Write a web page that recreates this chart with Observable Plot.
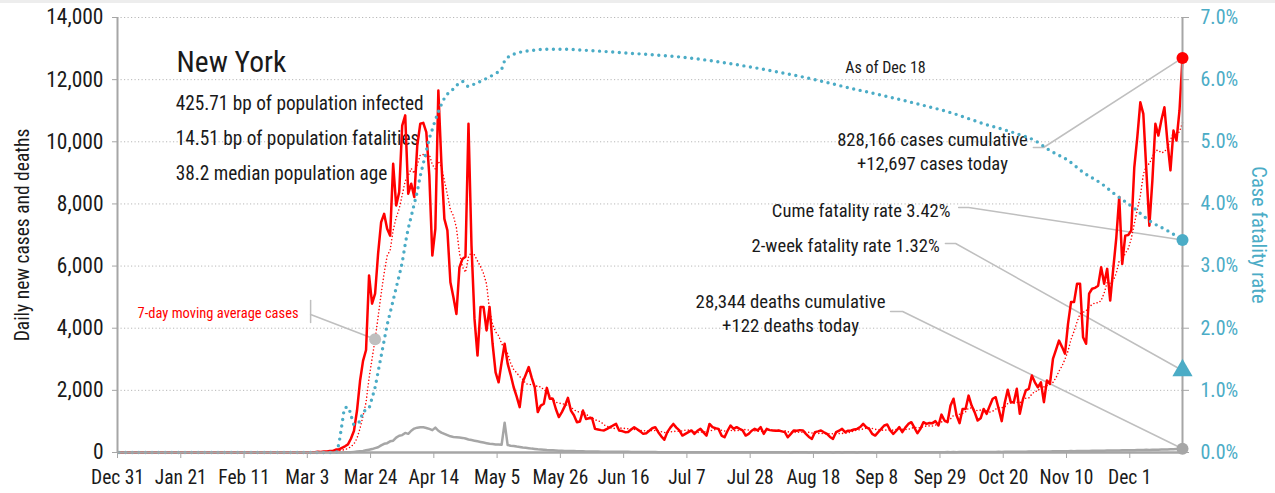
<!DOCTYPE html>
<html><head><meta charset="utf-8">
<script src="https://cdn.jsdelivr.net/npm/d3@7"></script>
<script src="https://cdn.jsdelivr.net/npm/@observablehq/plot@0.6"></script>
<style>
html,body{margin:0;padding:0;background:#fff;}
#chart{position:absolute;left:0;top:0;}
#strip{position:absolute;left:0;top:0;width:1275px;height:3px;background:#ededed;}
</style></head>
<body><div id="chart"></div><div id="strip"></div>
<script>
// ---------- data (daily, starting Dec 31 2019) ----------
const startDate = "2019-12-31";
const cases = [
0,0,0,0,0,0,0,0,0,0, 0,0,0,0,0,0,0,0,0,0, 0,0,0,0,0,0,0,0,0,0,
0,0,0,0,0,0,0,0,0,0, 0,0,0,0,0,0,0,0,0,0, 0,0,0,0,0,0,0,0,0,0, 0,
1,0,1,9,11,22,13,30,36,50,
52,95,100,150,200,260,450,700,1350,2300,
2950,3300,5700,4790,5110,6400,7410,7680,7200,6980,
9290,7950,8380,10520,10850,8330,8650,8220,9880,10580,
10610,10310,8920,6340,7200,11650,9340,7520,7150,5480,
5000,4460,5960,6230,6300,10580,6660,4300,3120,4680,
4680,3930,4680,3500,2580,2260,2900,3500,2860,2500,
2100,1800,1460,2260,2500,2750,2400,2100,1300,1510,
1570,2080,1730,1730,1400,1140,1300,1500,1760,1350,
1200,975,1000,1350,1080,1100,1110,760,740,720,
710,760,815,870,920,710,690,655,660,740,
815,750,680,600,620,700,780,815,655,520,
410,655,800,920,800,710,545,600,655,710,
600,700,760,650,545,920,815,780,760,545,
490,700,870,760,815,760,710,545,600,700,
760,710,815,600,760,720,710,700,710,680,
655,490,600,710,700,720,710,600,500,440,
655,680,710,650,600,500,440,655,700,760,
655,700,710,740,760,820,920,815,760,600,
545,655,760,870,900,710,600,700,815,655,
800,920,975,800,620,760,975,920,950,945,
1010,870,1220,1030,975,1510,1730,1200,945,1400,
1400,1830,1510,1300,1030,1100,1400,1245,1500,1730,
1780,1400,1010,1600,2020,1620,1620,2050,1245,1700,
2000,2050,2480,2260,2100,2260,1620,2320,2210,3010,
3300,3600,3400,3180,4140,4840,4840,5430,5430,3710,
3500,5110,5270,5300,5370,5960,5430,5910,4890,5900,
6880,8220,6070,6980,7000,7150,9180,10150,11270,10900,
9080,7300,8750,10580,10200,10700,11110,10000,9080,10360,
10040,11000,12697
];
const deaths = [
0,0,0,0,0,0,0,0,0,0, 0,0,0,0,0,0,0,0,0,0, 0,0,0,0,0,0,0,0,0,0,
0,0,0,0,0,0,0,0,0,0, 0,0,0,0,0,0,0,0,0,0, 0,0,0,0,0,0,0,0,0,0,
0,0,0,0,0,0,0,0,0,0, 0,0,0,
2,3,5,8,12,20,30,40,
50,70,90,110,140,170,230,280,300,360,
380,480,540,560,630,600,700,770,800,815,
810,790,760,720,800,700,640,600,560,520,
500,490,480,470,450,420,400,380,360,340,
320,300,280,270,260,255,250,960,240,220,
210,190,180,160,150,140,125,115,105,100,
90,80,75,70,65,60,55,52,50,48,
45,42,40,38,36,35,33,32,30,28,
27,26,25,25,24,23,22,22,21,20,
20,18,17,16,15,15,14,13,12,12,11,10,10,9,9,10,9,8,8,9,8,8,7,8,7,7,7,8,7,6,
6,7,6,7,6,5,6,6,5,6,5,6,5,6,5,5,6,5,5,6,5,5,4,5,5,6,5,5,4,5,
5,4,5,5,6,5,4,5,5,4,5,6,5,5,4,5,5,6,5,5,4,5,5,6,5,5,6,5,6,7,
7,6,7,8,7,8,9,8,10,9,11,10,12,11,13,12,14,12,13,15,14,16,15,14,16,18,17,19,18,20,
18,21,20,22,21,24,23,26,25,28,27,30,29,32,31,34,33,36,35,38,37,40,39,42,41,45,44,48,47,50,
52,50,55,54,58,57,60,62,61,65,64,68,70,69,72,75,74,78,80,82,85,84,88,90,92,95,97,100,104,108,112,118,122
];
// case fatality rate (%) read at these dates
const cfrDates = ["2019-12-31","2020-03-12","2020-03-13","2020-03-14","2020-03-15","2020-03-16","2020-03-17","2020-03-18","2020-03-19","2020-03-20","2020-03-21","2020-03-22","2020-03-23","2020-03-24","2020-03-25","2020-03-26","2020-03-27","2020-03-28","2020-03-29","2020-03-30","2020-03-31","2020-04-01","2020-04-02","2020-04-03","2020-04-04","2020-04-05","2020-04-06","2020-04-07","2020-04-08","2020-04-09","2020-04-10","2020-04-11","2020-04-12","2020-04-13","2020-04-14","2020-04-15","2020-04-17","2020-04-20","2020-04-23","2020-04-25","2020-04-27","2020-05-01","2020-05-04","2020-05-06","2020-05-07","2020-05-10","2020-05-16","2020-05-21","2020-05-27","2020-05-31","2020-06-07","2020-06-16","2020-07-07","2020-07-28","2020-08-18","2020-08-30","2020-09-10","2020-09-21","2020-10-02","2020-10-13","2020-10-24","2020-10-30","2020-11-04","2020-11-10","2020-11-15","2020-11-21","2020-11-26","2020-12-02","2020-12-07","2020-12-13","2020-12-18"];
const cfrValues = [0,0,0.15,0.45,0.72,0.73,0.6,0.45,0.48,0.5,0.66,0.68,0.72,0.88,1.05,1.3,1.55,1.8,2.05,2.25,2.45,2.65,2.85,3.06,3.35,3.6,3.8,4.0,4.2,4.45,4.65,4.85,5.05,5.2,5.35,5.48,5.7,5.85,5.97,5.89,5.93,6.02,6.1,6.17,6.3,6.41,6.47,6.49,6.49,6.48,6.46,6.43,6.35,6.2,6.0,5.86,5.74,5.61,5.47,5.29,5.13,5.02,4.86,4.70,4.51,4.33,4.14,3.93,3.73,3.57,3.42];
const twoWeekRate = 1.32;
const yTicks = [0,2000,4000,6000,8000,10000,12000,14000];
const rightMax = 7; // right axis runs 0% .. 7.0%
const xTickDates = ["2019-12-31","2020-01-21","2020-02-11","2020-03-03","2020-03-24","2020-04-14","2020-05-05","2020-05-26","2020-06-16","2020-07-07","2020-07-28","2020-08-18","2020-09-08","2020-09-29","2020-10-20","2020-11-10","2020-12-01"];
const infoLines = ["425.71 bp of population infected","14.51 bp of population fatalities","38.2 median population age"];

// ---------- helpers ----------
const DAY = 864e5;
const t0 = Date.parse(startDate + "T00:00:00Z");
const dateAt = d => new Date(t0 + d * DAY);
const noon = s => new Date(Date.parse(s + "T12:00:00Z"));
const cfrScale = yTicks[yTicks.length - 1] / rightMax;
const table = cases.map((c, i) => ({date: dateAt(i + 0.5), cases: c, deaths: deaths[i]}));
const cfrTable = cfrDates.map((s, i) => ({date: noon(s), cfr: cfrValues[i]}));
const last = table[table.length - 1];
const xDomain = [dateAt(0), dateAt(cases.length - 0.5)];
const maDay = 85;
const maValue = d3.mean(cases.slice(maDay - 6, maDay + 1));

const FONT = "'Liberation Sans Narrow','Arial Narrow','Roboto Condensed','DejaVu Sans Condensed',sans-serif";
const BLUE = "#4bacc6", GRAY = "#a6a6a6", LEAD = "#bfbfbf";

// annotations in data space (day offset from start, value on left scale)
const notes = [
  {day: 19.6, value: 12640, text: "New York", size: 29.5, anchor: "start"},
  {day: 19.3, value: 11270, text: infoLines[0], size: 19.3, anchor: "start"},
  {day: 19.3, value: 10160, text: infoLines[1], size: 19.3, anchor: "start"},
  {day: 19.3, value: 9040, text: infoLines[2], size: 19.3, anchor: "start"},
  {day: 254.9, value: 12414, text: "As of Dec 18", size: 16, anchor: "middle"},
  {day: 270.5, value: 9740, text: "828,166 cases cumulative\n+12,697 cases today", size: 18.6, anchor: "middle"},
  {day: 276.5, value: 7834, text: "Cume fatality rate 3.42%", size: 18.6, anchor: "end"},
  {day: 272.9, value: 6707, text: "2-week fatality rate 1.32%", size: 18.6, anchor: "end"},
  {day: 223.4, value: 4510, text: "28,344 deaths cumulative\n+122 deaths today", size: 18.8, anchor: "middle"},
  {day: 6.65, value: 4538, text: "7-day moving average cases", size: 14.5, anchor: "start", fill: "#ff0000"}
];
const leaders = [
  {id: "c", pts: [[304.0, 9816], [307.4, 9816], [null, last.cases]]},
  {id: "f", pts: [[279.2, 7885], [282.5, 7885], [null, cfrValues[cfrValues.length - 1] * cfrScale]]},
  {id: "w", pts: [[274.8, 6727], [278.2, 6727], [null, twoWeekRate * cfrScale]]},
  {id: "d", pts: [[256.6, 4538], [260.6, 4538], [null, last.deaths]]},
  {id: "m1", pts: [[64.1, 4892], [64.1, 4184]]},
  {id: "m2", pts: [[64.1, 4441], [maDay + 0.5, maValue]]}
];
const leaderRows = leaders.flatMap(l => l.pts.map(p => ({id: l.id, date: p[0] === null ? last.date : dateAt(p[0]), v: p[1]})));

const chart = Plot.plot({
  width: 1275, height: 493,
  marginLeft: 117, marginRight: 93, marginTop: 17, marginBottom: 41,
  style: {fontFamily: FONT, fontSize: "19px", color: "#1a1a1a", background: "#fff"},
  x: {type: "utc", domain: xDomain},
  y: {domain: [0, yTicks[yTicks.length - 1]]},
  marks: [
    Plot.ruleY(yTicks.filter(v => v > 0), {stroke: "#b8b8b8", strokeWidth: 1, strokeDasharray: "1.2 2.3"}),
    ...notes.map(n => Plot.text([n], {x: d => dateAt(d.day), y: "value", text: "text", textAnchor: n.anchor, fontSize: n.size, lineHeight: 1.3, fill: n.fill || "#1a1a1a"})),
    Plot.line(leaderRows, {x: "date", y: "v", z: "id", stroke: LEAD, strokeWidth: 1.5}),
    Plot.lineY(table, {x: "date", y: "deaths", stroke: GRAY, strokeWidth: 2.5}),
    Plot.lineY(table, Plot.windowY({k: 7, anchor: "end"}, {x: "date", y: "cases", stroke: "#ff0000", strokeWidth: 1.6, strokeDasharray: "0 3.4", strokeLinecap: "round"})),
    Plot.lineY(table, {x: "date", y: "cases", stroke: "#ff0000", strokeWidth: 2.5}),
    Plot.line(cfrTable, {x: "date", y: d => d.cfr * cfrScale, stroke: BLUE, strokeWidth: 3.4, strokeDasharray: "0 6.6", strokeLinecap: "round", curve: "monotone-x"}),
    Plot.ruleX(xDomain, {stroke: GRAY, strokeWidth: 2}),
    Plot.ruleY([0], {stroke: GRAY, strokeWidth: 2.5}),
    Plot.axisX({ticks: xTickDates.map(s => new Date(s + "T00:00:00Z")), tickFormat: d3.utcFormat("%b %-d"), tickSize: 6, tickPadding: 12, fontSize: 19.5, stroke: GRAY, fill: "#1a1a1a", label: null}),
    Plot.axisY({ticks: yTicks, tickFormat: d3.format(","), tickSize: 5, tickPadding: 9, fontSize: 21.5, stroke: GRAY, fill: "#1a1a1a", label: null}),
    Plot.axisY({anchor: "right", ticks: yTicks, tickFormat: v => (v / cfrScale).toFixed(1) + "%", tickSize: 6, tickPadding: 12, fontSize: 20, stroke: GRAY, fill: BLUE, label: null}),
    Plot.text(["Daily new cases and deaths"], {frameAnchor: "left", textAnchor: "middle", rotate: -90, dx: -95, text: d => d, fontSize: 19.5, fill: "#1a1a1a"}),
    Plot.text(["Case fatality rate"], {frameAnchor: "right", textAnchor: "middle", rotate: 90, dx: 76, text: d => d, fontSize: 20.5, fill: BLUE}),
    Plot.dot(table, Plot.filter((d, i) => i === maDay, Plot.windowY({k: 7, anchor: "end"}, {x: "date", y: "cases", r: 6, fill: LEAD}))),
    Plot.dot([last], {x: "date", y: "cases", r: 6, fill: "#ff0000"}),
    Plot.dot([cfrTable[cfrTable.length - 1]], {x: "date", y: d => d.cfr * cfrScale, r: 6, fill: BLUE}),
    Plot.dot([last], {x: "date", y: () => twoWeekRate * cfrScale, symbol: "triangle", r: 7.5, fill: BLUE}),
    Plot.dot([last], {x: "date", y: "deaths", r: 6, fill: GRAY})
  ]
});
document.getElementById("chart").appendChild(chart);
</script></body></html>
